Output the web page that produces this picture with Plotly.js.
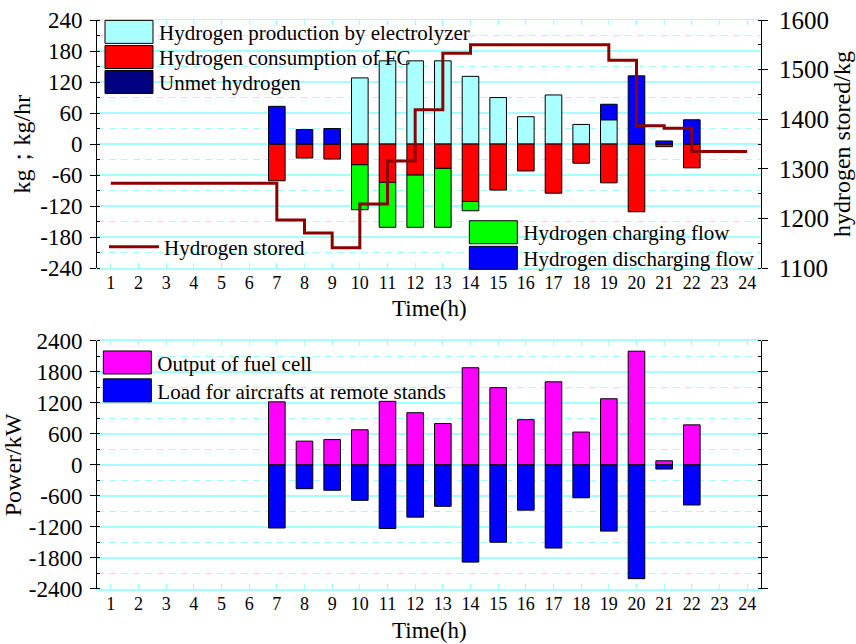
<!DOCTYPE html>
<html>
<head>
<meta charset="utf-8">
<script src="https://cdn.plot.ly/plotly-3.0.1.min.js"></script>
<style>
  html, body { margin: 0; padding: 0; background: #fff; }
  #chart { width: 856px; height: 644px; }
</style>
</head>
<body>
<div id="chart"></div>
<script>
// ---------- data ----------
var hours = [1,2,3,4,5,6,7,8,9,10,11,12,13,14,15,16,17,18,19,20,21,22,23,24];
var hourLabels = ['1','2','3','4','5','6','7','8','9','10','11','12','13','14','15','16','17','18','19','20','21','22','23','24'];

// top chart (kg/hr)
var electrolyzer = [0,0,0,0,0,0,0,0,0,128,161,161,161,131,90,53,95,38,47,0,0,0,0,0];
var fcConsumption = [0,0,0,0,0,0,-71,-27,-29,-40,-74,-60,-47,-111,-89,-52,-95,-37,-75,-131,-5,-46,0,0];
var unmetHydrogen = [0,0,0,0,0,0,0,0,0,0,0,0,0,0,0,0,0,0,0,0,0,0,0,0];
var chargingFlow = [0,0,0,0,0,0,0,0,0,-87,-87,-101,-114,-18,0,0,0,0,0,0,0,0,0,0];
var dischargingFlow = [0,0,0,0,0,0,73,28,30,0,0,0,0,0,0,0,0,0,30,132,6,47,0,0];
// hydrogen stored (kg), right axis
var hydrogenStored = [1271,1271,1271,1271,1271,1271,1197,1171,1141,1229,1316,1419,1533,1550,1550,1550,1550,1550,1519,1387,1382,1335,1335,1335];

// bottom chart (kW)
var fcOutput = [0,0,0,0,0,0,1220,460,490,680,1230,1010,800,1880,1495,875,1608,636,1280,2200,80,775,0,0];
var remoteLoad = [0,0,0,0,0,0,-1220,-460,-490,-685,-1230,-1010,-800,-1880,-1495,-875,-1608,-636,-1280,-2200,-80,-775,0,0];

// tick labels
var topTickVals = [-240,-180,-120,-60,0,60,120,180,240];
var topTickText = ['-240','-180','-120','-60','0','60','120','180','240'];
var botTickVals = [-2400,-1800,-1200,-600,0,600,1200,1800,2400];
var botTickText = ['-2400','-1800','-1200','-600','0','600','1200','1800','2400'];

// ---------- style ----------
var FONT = 'Liberation Serif, Times New Roman, serif';
var CYAN = '#a6ffff';
var BW = 0.6;
var outline = {color: '#000', width: 1};

// zero-height bars are not drawn (avoid outline artefacts)
function nz(arr) { return arr.map(function (v) { return v === 0 ? null : v; }); }

function bar(name, y, color, xa, ya, leg) {
  return {type: 'bar', name: name, x: hours, y: nz(y), width: BW, xaxis: xa, yaxis: ya,
          marker: {color: color, line: outline}, legend: leg, hoverinfo: 'skip', showlegend: true};
}

var traces = [
  bar('Hydrogen production by electrolyzer', electrolyzer, '#aaffff', 'x', 'y', 'legend'),
  bar('Hydrogen consumption of FC', fcConsumption, '#ff0000', 'x', 'y', 'legend2'),
  bar('Unmet hydrogen', unmetHydrogen, '#000080', 'x', 'y', 'legend3'),
  bar('Hydrogen charging flow', chargingFlow, '#00ff00', 'x', 'y', 'legend5'),
  bar('Hydrogen discharging flow', dischargingFlow, '#0000ff', 'x', 'y', 'legend6'),
  {type: 'scatter', mode: 'lines', name: 'Hydrogen stored', x: hours, y: hydrogenStored,
   xaxis: 'x', yaxis: 'y2', line: {color: '#8b0000', width: 3, shape: 'hv'}, legend: 'legend4', hoverinfo: 'skip'},
  bar('Output of fuel cell', fcOutput, '#ff00ff', 'x2', 'y3', 'legend7'),
  bar('Load for aircrafts at remote stands', remoteLoad, '#0000ff', 'x2', 'y3', 'legend8')
];

function leg(xp, yp) {
  return {x: xp, y: yp, xanchor: 'left', yanchor: 'middle', bgcolor: 'rgba(0,0,0,0)',
          borderwidth: 0, itemwidth: 50, font: {family: FONT, size: 21, color: '#000'}};
}

function xax(anchor) {
  return {domain: [0, 1], anchor: anchor, range: [0.5, 24.5], tickmode: 'array',
          tickvals: hours, ticktext: hourLabels, ticks: 'inside', ticklen: 5, tickwidth: 1,
          tickcolor: CYAN, showline: true, linecolor: CYAN, linewidth: 1.5, mirror: 'ticks',
          showgrid: false, zeroline: false, ticklabelstandoff: -2,
          tickfont: {family: FONT, size: 18, color: '#000'}};
}

function yax(domain, anchor, range, tv, tt, minorDt, mirror, title) {
  return {domain: domain, anchor: anchor, range: range, tickmode: 'array', tickvals: tv, ticktext: tt,
          ticks: 'outside', ticklen: 6, tickwidth: 1, tickcolor: '#000', showline: true,
          linecolor: '#000', linewidth: 1, mirror: mirror, zeroline: false,
          showgrid: true, gridcolor: CYAN, gridwidth: 2, ticklabelstandoff: 3,
          minor: {tickmode: 'linear', tick0: 0, dtick: minorDt, ticks: 'inside', ticklen: 3,
                  tickcolor: '#000', showgrid: true, gridcolor: CYAN, gridwidth: 1, griddash: '7px,5px'},
          tickfont: {family: FONT, size: 23, color: '#000'},
          title: {text: title, font: {family: FONT, size: 24, color: '#000'}, standoff: 2}};
}

var titleFont = {family: FONT, size: 23, color: '#000'};

var layout = {
  width: 856, height: 644,
  margin: {l: 97, r: 95, t: 18, b: 55},
  paper_bgcolor: '#fff', plot_bgcolor: '#fff',
  font: {family: FONT, color: '#000'},
  barmode: 'relative',
  showlegend: true,
  xaxis: xax('y'),
  xaxis2: xax('y3'),
  yaxis: yax([0.5639, 1], 'x', [-240, 240], topTickVals, topTickText, 30, false, 'kg；kg/hr'),
  yaxis2: {overlaying: 'y', side: 'right', anchor: 'x', range: [1100, 1600], tickmode: 'linear',
           tick0: 1100, dtick: 100, ticks: 'outside', ticklen: 6, tickcolor: '#000', showline: true,
           linecolor: '#000', linewidth: 1, showgrid: false, zeroline: false, ticklabelstandoff: 6,
           minor: {tickmode: 'linear', tick0: 1100, dtick: 50, ticks: 'inside', ticklen: 3, tickcolor: '#000', showgrid: false},
           tickfont: {family: FONT, size: 25, color: '#000'},
           title: {text: 'hydrogen stored/kg', font: {family: FONT, size: 24, color: '#000'}, standoff: 1}},
  yaxis3: yax([0, 0.4361], 'x2', [-2400, 2400], botTickVals, botTickText, 300, 'ticks', 'Power/kW'),
  annotations: [
    {text: 'Time(h)', xref: 'x domain', x: 0.5, yref: 'paper', y: 0.4921, xanchor: 'center', yanchor: 'middle',
     showarrow: false, font: titleFont},
    {text: 'Time(h)', xref: 'x2 domain', x: 0.5, yref: 'paper', y: -0.0735, xanchor: 'center', yanchor: 'middle',
     showarrow: false, font: titleFont}
  ],
  legend:  leg(0.003, 0.9785),
  legend2: leg(0.003, 0.9343),
  legend3: leg(0.003, 0.8905),
  legend4: leg(0.0105, 0.6007),
  legend5: leg(0.5517, 0.6264),
  legend6: leg(0.5517, 0.5814),
  legend7: leg(0.0005, 0.3975),
  legend8: leg(0.0005, 0.3485)
};

Plotly.newPlot('chart', traces, layout, {staticPlot: true, displayModeBar: false}).then(function (gd) {
  // enlarge bar legend swatches to match the reference
  gd.querySelectorAll('g.traces .legendpoints path').forEach(function (p) {
    var d = p.getAttribute('d') || '';
    if (d.indexOf('V') >= 0) p.setAttribute('d', 'M-24,-11.5H24V11.5H-24Z');
  });
});
</script>
</body>
</html>
